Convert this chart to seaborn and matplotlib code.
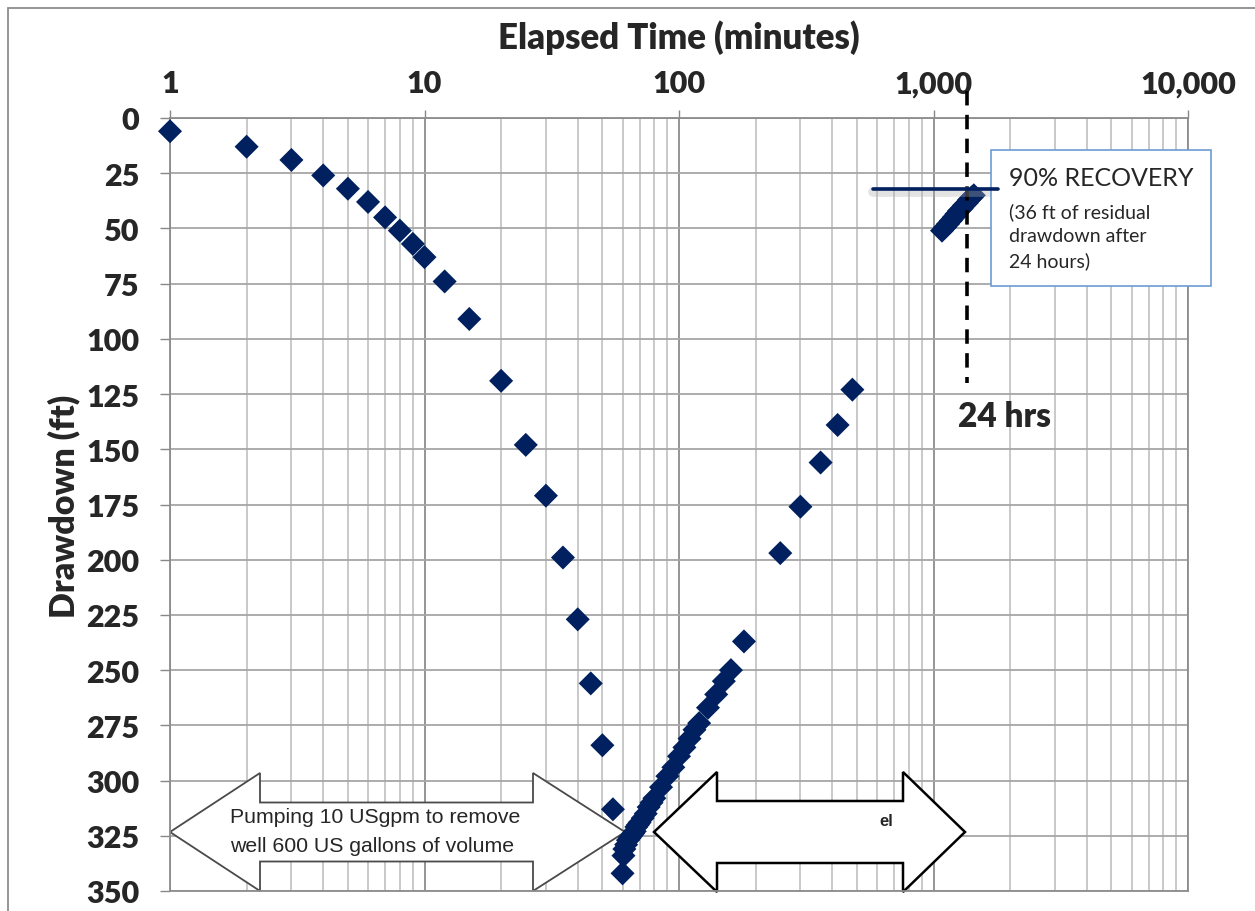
import pandas as pd
import matplotlib
matplotlib.use('Agg')
import matplotlib.pyplot as plt
import seaborn as sns
from matplotlib.patches import Polygon, Rectangle
from matplotlib.lines import Line2D
from matplotlib.ticker import FixedLocator, LogLocator, NullFormatter

###############################################################################

# pumping phase (elapsed minutes, drawdown ft)
pump_minutes = [1, 2, 3, 4, 5, 6, 7, 8, 9, 10, 12, 15, 20, 25, 30, 35, 40, 45, 50, 55, 60]
pump_drawdown = [6, 13, 19, 26, 32, 38, 45, 51, 57, 63, 74, 91, 119, 148, 171, 199, 227, 256, 284, 313, 342]

# recovery phase
recovery_minutes = [60.5, 61, 62, 63, 64, 65, 66, 67, 68, 69, 70, 72, 74, 76, 78, 80,
                    85, 90, 95, 100, 105, 110, 115, 120, 130, 140, 150, 160, 180,
                    250, 300, 360, 420, 480,
                    1080, 1110, 1140, 1170, 1200, 1230, 1260, 1290, 1320, 1350, 1380, 1410, 1440]
recovery_drawdown = [334, 331, 329, 327, 326, 325, 324, 323, 321, 320, 319, 317, 315, 312, 310, 308,
                     303, 298, 294, 289, 285, 281, 277, 274, 267, 261, 255, 250, 237,
                     197, 176, 156, 139, 123,
                     51, 49.5, 48, 46.5, 45, 43.5, 42, 41, 39.5, 38.5, 37, 36, 35]

x_ticks = [1, 10, 100, 1000, 10000]
x_tick_labels = ['1', '10', '100', '1,000', '10,000']
y_ticks = [0, 25, 50, 75, 100, 125, 150, 175, 200, 225, 250, 275, 300, 325, 350]

marker_color = '#002060'
W, H = 1255, 912
HEAVY = 'heavy'

###############################################################################

def fig_xy(px, py):
    # pixel position (from top-left) -> figure fraction
    return px / W, 1 - py / H

def double_arrow(ax, left, right, head_left, head_right, cy, body_half, head_half, edge, lw):
    pts = [
        (left, cy),
        (head_left, cy - head_half), (head_left, cy - body_half),
        (head_right, cy - body_half), (head_right, cy - head_half),
        (right, cy),
        (head_right, cy + head_half), (head_right, cy + body_half),
        (head_left, cy + body_half), (head_left, cy + head_half),
    ]
    poly = Polygon([fig_xy(x, y) for x, y in pts], closed=True, facecolor='white',
                   edgecolor=edge, linewidth=lw, transform=ax.figure.transFigure,
                   clip_on=False, zorder=2)
    ax.add_patch(poly)

###############################################################################

sns.set_style('white')
plt.rcParams['font.family'] = ['Lato', 'DejaVu Sans']

df = pd.DataFrame({
    'minutes': pump_minutes + recovery_minutes,
    'drawdown': pump_drawdown + recovery_drawdown,
})

fig = plt.figure(figsize=(W / 100, H / 100), dpi=100)
ax = fig.add_axes([170 / W, 1 - 892 / H, (1188 - 170) / W, (892 - 119) / H])

sns.scatterplot(data=df, x='minutes', y='drawdown', marker='D', s=150,
                color=marker_color, edgecolor='none', linewidth=0, ax=ax,
                legend=False, zorder=3, clip_on=False)

ax.set_xscale('log')
ax.set_xlim(1, 10000)
ax.set_ylim(350, 0)
ax.set_xlabel('')
ax.set_ylabel('')

ax.xaxis.tick_top()
ax.xaxis.set_major_locator(FixedLocator(x_ticks))
ax.set_xticklabels(x_tick_labels)
ax.xaxis.set_minor_locator(LogLocator(base=10, subs=range(2, 10)))
ax.xaxis.set_minor_formatter(NullFormatter())
ax.set_yticks(y_ticks)

ax.tick_params(axis='x', which='major', top=True, bottom=False, length=6, width=1,
               color='#888888', pad=9, labelsize=22)
ax.tick_params(axis='x', which='minor', length=0)
ax.tick_params(axis='y', which='major', left=True, length=7, width=1,
               color='#888888', pad=15, labelsize=22)
for lbl in ax.get_xticklabels() + ax.get_yticklabels():
    lbl.set_fontweight(HEAVY)

ax.grid(which='major', axis='x', color='#8c8c8c', linewidth=1.3)
ax.grid(which='minor', axis='x', color='#c0c0c0', linewidth=1.2)
ax.grid(which='major', axis='y', color='#a6a6a6', linewidth=1.3)
ax.set_axisbelow(True)
for side in ax.spines.values():
    side.set_color('#8c8c8c')
    side.set_linewidth(1.3)

# 24 hour marker
ax.plot([1360, 1360], [-12, 120], color='black', linewidth=2.6,
        dashes=(4, 2.6), clip_on=False, zorder=5)

# titles
fig.text(*fig_xy(679, 38), 'Elapsed Time (minutes)', ha='center', va='center',
         fontsize=25, fontweight=HEAVY)
fig.text(*fig_xy(64, 506), 'Drawdown (ft)', ha='center', va='center',
         rotation=90, fontsize=24.5, fontweight=HEAVY)
fig.text(*fig_xy(958, 417), '24 hrs', ha='left', va='center',
         fontsize=24, fontweight=HEAVY)

# recovery callout
shadow = Line2D([fig_xy(873, 0)[0], fig_xy(998, 0)[0]], [fig_xy(0, 193)[1]] * 2,
                color='#b0b0b0', linewidth=7, alpha=0.35, transform=fig.transFigure, zorder=2)
pointer = Line2D([fig_xy(873, 0)[0], fig_xy(998, 0)[0]], [fig_xy(0, 190)[1]] * 2,
                 color=marker_color, linewidth=2.6, transform=fig.transFigure, zorder=3)
box = Rectangle(fig_xy(991, 287), (1211 - 991) / W, (287 - 151) / H,
                facecolor='white', edgecolor='#6c9bd2', linewidth=1.2,
                transform=fig.transFigure, zorder=2)
fig.add_artist(shadow)
fig.add_artist(box)
fig.add_artist(pointer)
fig.text(*fig_xy(1009, 179), '90% RECOVERY', ha='left', va='center', fontsize=18, zorder=4)
fig.text(*fig_xy(1009, 212), '(36 ft of residual', ha='left', va='center', fontsize=14, zorder=4)
fig.text(*fig_xy(1009, 236), 'drawdown after', ha='left', va='center', fontsize=14, zorder=4)
fig.text(*fig_xy(1009, 261), '24 hours)', ha='left', va='center', fontsize=14, zorder=4)

# chart area border (only left and top edges are visible)
fig.add_artist(Rectangle(fig_xy(8, 930), 1.1, (930 - 9) / H, facecolor='none',
                         edgecolor='#8c8c8c', linewidth=1.3, transform=fig.transFigure))

# bottom block arrows
double_arrow(ax, 170, 625, 260, 533, 833, 29.5, 59, '#4a4a4a', 1.3)
double_arrow(ax, 654, 965, 717, 903, 833, 31, 60, 'black', 1.8)
ax.text(*fig_xy(230, 818), 'Pumping 10 USgpm to remove', transform=fig.transFigure,
        ha='left', va='center', fontsize=15.3, family='Liberation Sans', zorder=4)
ax.text(*fig_xy(230, 847), 'well 600 US gallons of volume', transform=fig.transFigure,
        ha='left', va='center', fontsize=15.3, family='Liberation Sans', zorder=4)
ax.text(*fig_xy(893, 821), 'el', transform=fig.transFigure, ha='right', va='center',
        fontsize=12, fontweight='bold', family='Liberation Sans', zorder=4)

fig.savefig('out.png', dpi=100)
plt.close(fig)
